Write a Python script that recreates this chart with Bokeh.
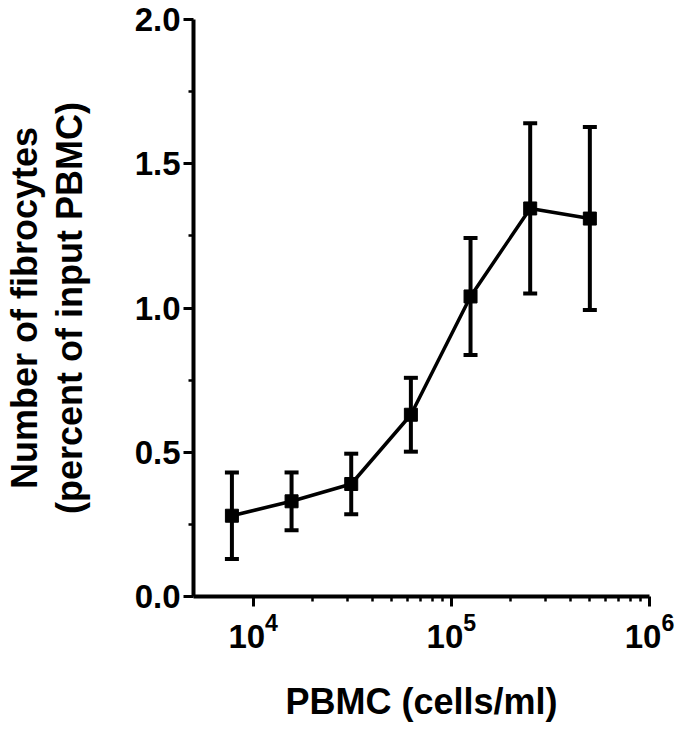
from bokeh.plotting import figure
from bokeh.models import FixedTicker, LogTickFormatter, Whisker, TeeHead, ColumnDataSource, Range1d, CustomJSTickFormatter
from bokeh.embed import file_html
from bokeh.resources import INLINE

# Data
pbmc = [7812.5, 15625, 31250, 62500, 125000, 250000, 500000]
fibrocytes = [0.28, 0.33, 0.39, 0.63, 1.04, 1.345, 1.31]
sem = [0.15, 0.10, 0.105, 0.128, 0.203, 0.295, 0.317]

x_major = [1e4, 1e5, 1e6]
x_minor = [2e4, 3e4, 4e4, 5e4, 6e4, 7e4, 8e4, 9e4,
           2e5, 3e5, 4e5, 5e5, 6e5, 7e5, 8e5, 9e5]
y_major = [0.0, 0.5, 1.0, 1.5, 2.0]
y_minor = [0.25, 0.75, 1.25, 1.75]

upper = [m + s for m, s in zip(fibrocytes, sem)]
lower = [m - s for m, s in zip(fibrocytes, sem)]
src = ColumnDataSource(dict(x=pbmc, y=fibrocytes, upper=upper, lower=lower))

FONT = "Liberation Sans"

p = figure(x_axis_type="log", output_backend="svg", toolbar_location=None,
           frame_width=456, frame_height=577,
           min_border_left=191, min_border_right=30, min_border_top=19, min_border_bottom=128,
           x_range=Range1d(5000, 1e6), y_range=Range1d(0, 2.0))
p.outline_line_color = None
p.grid.visible = False
p.background_fill_color = "white"
p.border_fill_color = "white"

p.line("x", "y", source=src, line_color="black", line_width=3.5)
w = Whisker(base="x", upper="upper", lower="lower", source=src,
            line_color="black", line_width=4,
            upper_head=TeeHead(size=14, line_color="black", line_width=4),
            lower_head=TeeHead(size=14, line_color="black", line_width=4))
p.add_layout(w)
p.scatter("x", "y", source=src, marker="square", size=13, fill_color="black", line_color="black")

for ax in (p.xaxis[0], p.yaxis[0]):
    ax.axis_line_width = 4
    ax.axis_line_color = "black"
    ax.major_tick_line_width = 3
    ax.minor_tick_line_width = 2.5
    ax.major_tick_in = 0
    ax.minor_tick_in = 0
    ax.major_tick_out = 10
    ax.minor_tick_out = 5
    ax.major_label_text_font = FONT
    ax.major_label_text_font_size = "33px"
    ax.major_label_text_font_style = "bold"
    ax.major_label_text_color = "black"
    ax.axis_label_text_font = FONT
    ax.axis_label_text_font_size = "36px"
    ax.axis_label_text_font_style = "bold"
    ax.axis_label_text_color = "black"

p.xaxis[0].ticker = FixedTicker(ticks=x_major, minor_ticks=x_minor)
p.xaxis[0].formatter = LogTickFormatter()
p.xaxis[0].major_label_standoff = 6
p.xaxis[0].axis_label = "PBMC (cells/ml)"
p.xaxis[0].axis_label_standoff = 30

p.yaxis[0].ticker = FixedTicker(ticks=y_major, minor_ticks=y_minor)
p.yaxis[0].formatter = CustomJSTickFormatter(code="return tick.toFixed(1);")
p.yaxis[0].major_label_standoff = 3
p.yaxis[0].axis_label = "Number of fibrocytes\n(percent of input PBMC)"
p.yaxis[0].axis_label_text_line_height = 1.1
p.yaxis[0].axis_label_standoff = 42

open("out.html", "w").write(file_html(p, INLINE))
